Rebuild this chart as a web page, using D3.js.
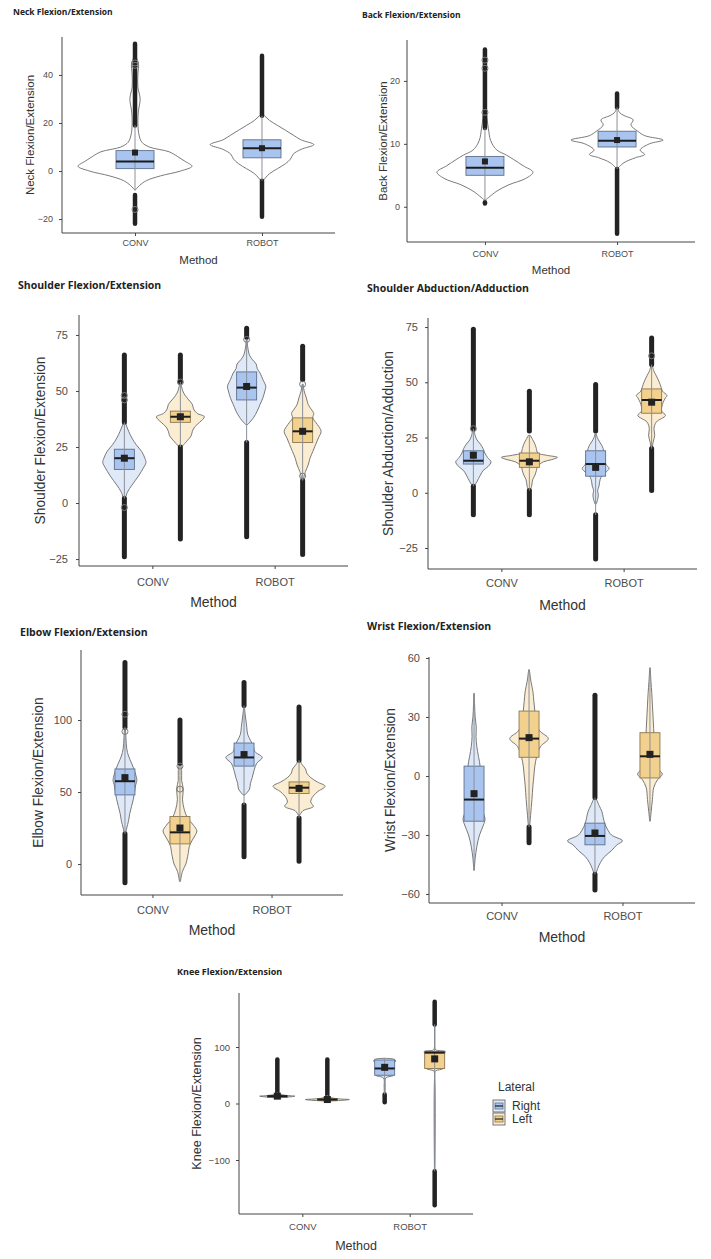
<!DOCTYPE html>
<html>
<head>
<meta charset="utf-8">
<script src="https://cdn.jsdelivr.net/npm/d3@7"></script>
<style>
  body { margin: 0; background: #fff; }
  text { font-family: "Liberation Sans", Arial, sans-serif; }
  .title { font-family: "Open Sans", "Noto Sans", sans-serif; font-weight: 700; fill: #222; }
</style>
</head>
<body>
<svg id="chart" width="711" height="1259"></svg>
<script>
// ---- data ----
const methods = ["CONV", "ROBOT"];
const laterals = ["Right", "Left"];

const titles = ["Neck Flexion/Extension", "Back Flexion/Extension", "Shoulder Flexion/Extension",
  "Shoulder Abduction/Adduction", "Elbow Flexion/Extension", "Wrist Flexion/Extension", "Knee Flexion/Extension"];
const yTitles = titles;
const yDomains = [[-25.8, 55.8], [-5.6, 26.5], [-28.1, 83.9], [-34.5, 79.1], [-21.5, 148.6], [-64.6, 60.5], [-195.6, 195.6]];
const yTicks = [[-20, 0, 20, 40], [0, 10, 20], [-25, 0, 25, 50, 75], [-25, 0, 25, 50, 75], [0, 50, 100], [-60, -30, 0, 30, 60], [-100, 0, 100]];

// box: [q1, median, q3], whisk: [lo, hi], outLo/outHi: span of the stacked outlier points,
// hollow: single open markers, peak: relative density peak, violin: [value, density]
const neckGroups = [
  { m: "CONV", lat: null, box: [1, 4, 8.5], mean: 7.7, whisk: [-8, 19], outLo: [-22, -10], outHi: [19, 53], hollow: [45, 44, -16], peak: 1,
    violin: [[-8, 0], [-6, 0.08], [-4, 0.2], [-2, 0.45], [0, 0.8], [2, 1], [4, 0.88], [6, 0.75], [8, 0.6], [10, 0.25], [12, 0.12], [15, 0.07], [20, 0.05], [25, 0.06], [30, 0.09], [35, 0.05], [40, 0.05], [45, 0.06], [48, 0]] },
  { m: "ROBOT", lat: null, box: [5.5, 9.5, 13], mean: 9.5, whisk: [-4, 23], outLo: [-19, -4], outHi: [23, 48], hollow: [], peak: 0.91,
    violin: [[-5, 0], [-3, 0.06], [-1, 0.15], [1, 0.3], [3, 0.45], [5, 0.55], [7, 0.6], [9, 0.75], [11, 1], [13, 0.75], [15, 0.6], [17, 0.45], [19, 0.3], [21, 0.15], [23, 0.05], [24, 0]] }
];
const backGroups = [
  { m: "CONV", lat: null, box: [5, 6.2, 8], mean: 7.2, whisk: [1, 12.5], outLo: [0.5, 0.7], outHi: [12.5, 25], hollow: [23.3, 22, 15], peak: 1,
    violin: [[1, 0], [1.5, 0.08], [2.5, 0.25], [3.5, 0.5], [4.5, 0.85], [5.5, 1], [6.5, 0.8], [7.5, 0.6], [8.2, 0.45], [9, 0.25], [10, 0.15], [11, 0.1], [12, 0.08], [13, 0.06], [15, 0.03], [16, 0]] },
  { m: "ROBOT", lat: null, box: [9.5, 10.5, 12], mean: 10.6, whisk: [6, 15.8], outLo: [-4.3, 6], outHi: [15.8, 18], hollow: [], peak: 0.96,
    violin: [[6, 0], [7, 0.15], [7.8, 0.4], [8.3, 0.6], [9, 0.5], [10, 0.7], [10.6, 1], [11.3, 0.6], [12, 0.45], [13, 0.3], [13.8, 0.35], [14.5, 0.15], [15, 0.05], [16, 0]] }
];
const shFlexGroups = [
  { m: "CONV", lat: "Right", box: [15, 20, 24], mean: 20, whisk: [2, 36], outLo: [-24, 2], outHi: [36, 66], hollow: [48, 46, -2], peak: 0.9,
    violin: [[2, 0.04], [5, 0.15], [8, 0.35], [12, 0.65], [16, 0.9], [18, 1], [20, 0.95], [23, 0.8], [26, 0.55], [29, 0.35], [32, 0.2], [35, 0.08], [38, 0.02]] },
  { m: "CONV", lat: "Left", box: [36, 38.5, 41], mean: 38.5, whisk: [25, 54], outLo: [-16, 25], outHi: [54, 66], hollow: [54], peak: 1,
    violin: [[25, 0.05], [28, 0.3], [30, 0.45], [32, 0.5], [34, 0.6], [36, 0.8], [38.5, 1], [40, 0.7], [42, 0.55], [44, 0.5], [46, 0.35], [48, 0.2], [50, 0.1], [53, 0.03]] },
  { m: "ROBOT", lat: "Right", box: [46, 51.5, 58.5], mean: 52, whisk: [27, 73], outLo: [-15, 27], outHi: [74, 78], hollow: [73], peak: 0.8,
    violin: [[35, 0.05], [38, 0.35], [41, 0.55], [44, 0.7], [47, 0.85], [50, 0.95], [52, 1], [55, 0.85], [58, 0.7], [60, 0.55], [62, 0.5], [64, 0.3], [66, 0.15], [70, 0.05], [73, 0.02]] },
  { m: "ROBOT", lat: "Left", box: [27, 32, 38], mean: 32, whisk: [10, 53], outLo: [-23, 10], outHi: [55, 70], hollow: [53, 12], peak: 0.77,
    violin: [[11, 0.05], [14, 0.15], [17, 0.3], [20, 0.4], [23, 0.55], [26, 0.7], [29, 0.85], [32, 1], [35, 0.8], [38, 0.55], [40, 0.6], [42, 0.45], [44, 0.3], [47, 0.2], [50, 0.08], [53, 0.03]] }
];
const shAbdGroups = [
  { m: "CONV", lat: "Right", box: [13, 14.5, 19], mean: 17, whisk: [3, 29], outLo: [-10, 3], outHi: [29, 74], hollow: [29], peak: 0.63,
    violin: [[3, 0.05], [5, 0.2], [8, 0.4], [10, 0.55], [12, 0.85], [14, 1], [16, 0.8], [18, 0.65], [20, 0.55], [22, 0.4], [24, 0.2], [26, 0.1], [29, 0.03]] },
  { m: "CONV", lat: "Left", box: [11.5, 14.5, 18], mean: 14, whisk: [1, 26], outLo: [-10, 1], outHi: [28, 46], hollow: [], peak: 1,
    violin: [[1, 0.03], [3, 0.08], [6, 0.12], [8, 0.2], [10, 0.25], [12, 0.3], [14, 0.5], [15, 0.8], [16, 1], [17, 0.6], [18, 0.3], [20, 0.25], [22, 0.2], [24, 0.12], [26, 0.03]] },
  { m: "ROBOT", lat: "Right", box: [7.5, 13, 19], mean: 11.5, whisk: [-10, 27], outLo: [-30, -10], outHi: [28, 49], hollow: [], peak: 0.48,
    violin: [[-5, 0.05], [-3, 0.15], [-1, 0.2], [1, 0.15], [3, 0.25], [5, 0.3], [7, 0.4], [9, 0.7], [11, 1], [13, 0.75], [15, 0.7], [17, 0.65], [19, 0.6], [21, 0.5], [23, 0.3], [25, 0.12], [27, 0.03]] },
  { m: "ROBOT", lat: "Left", box: [36, 42, 47], mean: 41, whisk: [20, 58], outLo: [1, 20], outHi: [58, 70], hollow: [62], peak: 0.55,
    violin: [[20, 0.03], [23, 0.1], [26, 0.2], [29, 0.15], [32, 0.3], [35, 0.9], [37, 0.65], [40, 0.7], [43, 0.9], [44, 1], [46, 0.7], [48, 0.6], [50, 0.5], [53, 0.3], [55, 0.15], [58, 0.03]] }
];
const elbowGroups = [
  { m: "CONV", lat: "Right", box: [48, 57.5, 66], mean: 60, whisk: [21, 95], outLo: [-13, 21], outHi: [95, 140], hollow: [104, 92], peak: 0.46,
    violin: [[21, 0.05], [25, 0.15], [30, 0.3], [35, 0.4], [40, 0.55], [45, 0.7], [50, 0.8], [55, 0.9], [58, 1], [62, 0.9], [66, 0.75], [70, 0.55], [75, 0.3], [80, 0.15], [88, 0.08], [95, 0.03]] },
  { m: "CONV", lat: "Left", box: [14, 22, 33], mean: 25, whisk: [-12, 68], outLo: null, outHi: [70, 100], hollow: [68, 52], peak: 0.65,
    violin: [[-12, 0.03], [-5, 0.15], [0, 0.35], [5, 0.45], [8, 0.5], [12, 0.55], [16, 0.7], [20, 0.9], [23, 1], [27, 0.8], [32, 0.45], [38, 0.25], [45, 0.15], [52, 0.2], [58, 0.1], [65, 0.1], [70, 0.02]] },
  { m: "ROBOT", lat: "Right", box: [68, 74, 84], mean: 76, whisk: [41, 110], outLo: [5, 41], outHi: [110, 126], hollow: [], peak: 0.7,
    violin: [[48, 0.05], [52, 0.3], [56, 0.35], [60, 0.45], [65, 0.55], [70, 0.7], [74, 1], [78, 0.6], [82, 0.5], [86, 0.35], [90, 0.2], [95, 0.15], [100, 0.1], [105, 0.05], [110, 0.02]] },
  { m: "ROBOT", lat: "Left", box: [49, 53, 57], mean: 52.5, whisk: [32, 72], outLo: [2, 32], outHi: [72, 109], hollow: [], peak: 1,
    violin: [[34, 0.03], [37, 0.15], [40, 0.55], [43, 0.45], [46, 0.5], [50, 0.7], [54, 1], [57, 0.7], [60, 0.45], [63, 0.3], [66, 0.25], [69, 0.12], [72, 0.03]] }
];
const wristGroups = [
  { m: "CONV", lat: "Right", box: [-23, -12, 5], mean: -9, whisk: [-48, 42], outLo: null, outHi: null, hollow: [], peak: 0.4,
    violin: [[-48, 0.02], [-42, 0.1], [-36, 0.25], [-30, 0.5], [-25, 0.85], [-22, 1], [-18, 0.8], [-12, 0.65], [-6, 0.55], [0, 0.5], [5, 0.55], [10, 0.4], [15, 0.25], [20, 0.18], [25, 0.2], [30, 0.1], [36, 0.05], [42, 0.02]] },
  { m: "CONV", lat: "Left", box: [9.5, 19, 33], mean: 19.5, whisk: [-26, 54], outLo: [-34, -26], outHi: null, hollow: [], peak: 0.7,
    violin: [[-26, 0.03], [-20, 0.08], [-12, 0.15], [-5, 0.2], [0, 0.25], [5, 0.3], [10, 0.4], [15, 0.6], [19, 1], [23, 0.55], [28, 0.35], [33, 0.3], [38, 0.25], [43, 0.2], [48, 0.1], [54, 0.02]] },
  { m: "ROBOT", lat: "Right", box: [-35, -30.5, -24], mean: -29, whisk: [-50, -11], outLo: [-58, -50], outHi: [-11, 41], hollow: [], peak: 1,
    violin: [[-50, 0.03], [-47, 0.1], [-44, 0.2], [-41, 0.35], [-38, 0.6], [-35, 0.8], [-33, 1], [-30, 0.6], [-27, 0.45], [-24, 0.35], [-21, 0.3], [-18, 0.25], [-15, 0.15], [-11, 0.03]] },
  { m: "ROBOT", lat: "Left", box: [-1, 10, 22], mean: 11, whisk: [-23, 55], outLo: null, outHi: null, hollow: [], peak: 0.45,
    violin: [[-23, 0.02], [-18, 0.1], [-12, 0.2], [-6, 0.3], [-2, 0.6], [1, 1], [4, 0.6], [8, 0.45], [12, 0.4], [18, 0.35], [24, 0.3], [30, 0.25], [36, 0.2], [42, 0.15], [48, 0.08], [55, 0.02]] }
];
const kneeGroups = [
  { m: "CONV", lat: "Right", box: [11, 13, 14], mean: 13, whisk: [9, 20], outLo: null, outHi: [20, 78], hollow: [], peak: 0.8,
    violin: [[9, 0.02], [11, 0.4], [12, 0.8], [13, 1], [14, 0.6], [16, 0.2], [18, 0.08], [20, 0.02]] },
  { m: "CONV", lat: "Left", box: [6, 7, 8.5], mean: 7, whisk: [4, 15], outLo: null, outHi: [15, 78], hollow: [], peak: 1,
    violin: [[4, 0.02], [5, 0.4], [6, 0.8], [7, 1], [8, 0.6], [10, 0.2], [12, 0.08], [15, 0.02]] },
  { m: "ROBOT", lat: "Right", box: [50, 62, 77], mean: 64, whisk: [16, 80], outLo: [2, 16], outHi: null, hollow: [], peak: 0.5,
    violin: [[16, 0.03], [30, 0.05], [45, 0.1], [50, 0.8], [55, 0.6], [62, 0.7], [70, 0.75], [75, 1], [78, 0.9], [80, 0.03]] },
  { m: "ROBOT", lat: "Left", box: [62, 90, 92], mean: 79, whisk: [-120, 140], outLo: [-180, -120], outHi: [140, 180], hollow: [], peak: 0.48,
    violin: [[-180, 0.02], [55, 0.03], [58, 0.1], [62, 0.8], [70, 0.7], [80, 0.75], [88, 0.9], [92, 1], [95, 0.1], [100, 0.02], [180, 0.02]] }
];
const panelGroups = [neckGroups, backGroups, shFlexGroups, shAbdGroups, elbowGroups, wristGroups, kneeGroups];

// ---- layout (pixels) ----
const layout = [
  { ax: 62,  ar: 335, top: 37,  bot: 233,  pad: 0.575, dodge: 0,    vmax: 57,  boxW: 38, sq: 6, out: 4.5,
    tx: 13,  ty: 15,  tfs: 8.5, ylx: 30,  ylfs: 11.5, tkfs: 9,   xtPad: 3.6, ytPad: 6, xlfs: 11.5, xly: 264 },
  { ax: 407, ar: 695, top: 40,  bot: 242,  pad: 0.59,  dodge: 0,    vmax: 48,  boxW: 38, sq: 6, out: 4.5,
    tx: 362, ty: 18,  tfs: 8.5, ylx: 383, ylfs: 11.5, tkfs: 9,   xtPad: 5.6, ytPad: 4, xlfs: 11.5, xly: 274 },
  { ax: 79,  ar: 348, top: 315, bot: 566,  pad: 0.60,  dodge: 28,   vmax: 24,  boxW: 20, sq: 7, out: 5,
    tx: 18,  ty: 289, tfs: 10.5, ylx: 40, ylfs: 13.8, tkfs: 11,  xtPad: 9.2, ytPad: 8, xlfs: 14, xly: 607 },
  { ax: 428, ar: 697, top: 318, bot: 569,  pad: 0.60,  dodge: 28,   vmax: 28,  boxW: 20, sq: 7, out: 5,
    tx: 367, ty: 292, tfs: 10.5, ylx: 388, ylfs: 13.8, tkfs: 11, xtPad: 7.2, ytPad: 7, xlfs: 14, xly: 610 },
  { ax: 81,  ar: 343, top: 650, bot: 895,  pad: 0.60,  dodge: 27.5, vmax: 26,  boxW: 20, sq: 7, out: 5,
    tx: 20,  ty: 636, tfs: 10.5, ylx: 38, ylfs: 13.8, tkfs: 11,  xtPad: 8.2, ytPad: 6, xlfs: 14, xly: 935 },
  { ax: 429, ar: 695, top: 657, bot: 903,  pad: 0.60,  dodge: 27.5, vmax: 27.5, boxW: 20, sq: 7, out: 5,
    tx: 367, ty: 630, tfs: 10.5, ylx: 390, ylfs: 13.8, tkfs: 11, xtPad: 6.2, ytPad: 6, xlfs: 14, xly: 942 },
  { ax: 239, ar: 473, top: 993, bot: 1214, pad: 0.59,  dodge: 25,   vmax: 22,  boxW: 20, sq: 7, out: 4.5,
    tx: 177, ty: 975, tfs: 9,   ylx: 197, ylfs: 12.6, tkfs: 9.5, xtPad: 6.3, ytPad: 6, xlfs: 12.5, xly: 1250 }
];

const violinFill = { none: "#ffffff", Right: "#dfe9f8", Left: "#fbedd2" };
const boxFill = { Right: "#a9c5ef", Left: "#f2d08e" };
const boxStroke = { Right: "#5d6f8c", Left: "#8a7750" };

const svg = d3.select("#chart");

function drawPanel(i) {
  const L = layout[i], groups = panelGroups[i];
  const g = svg.append("g");

  const y = d3.scaleLinear().domain(yDomains[i]).range([L.bot, L.top]);
  const x = d3.scalePoint().domain(methods).range([L.ax, L.ar]).padding(L.pad);
  const dx = d3.scalePoint().domain(laterals).range([-L.dodge, L.dodge]);
  const vw = d3.scaleLinear().domain([0, 1]).range([0, L.vmax]);
  const cx = d => x(d.m) + (d.lat ? dx(d.lat) : 0);

  // title
  g.append("text").attr("class", "title").attr("x", L.tx).attr("y", L.ty)
    .attr("font-size", L.tfs).text(titles[i]);

  // axes
  const yAxis = g.append("g").attr("transform", `translate(${L.ax},0)`)
    .call(d3.axisLeft(y).tickValues(yTicks[i]).tickSize(3).tickPadding(L.ytPad).tickSizeOuter(0));
  const xAxis = g.append("g").attr("transform", `translate(0,${L.bot})`)
    .call(d3.axisBottom(x).tickSize(3).tickPadding(L.xtPad).tickSizeOuter(0));
  for (const a of [yAxis, xAxis]) {
    a.select(".domain").remove();
    a.selectAll(".tick line").attr("stroke", "#444");
    a.selectAll("text").attr("fill", "#4d4d4d").attr("font-size", L.tkfs)
      .attr("font-family", "'Liberation Sans', Arial, sans-serif");
  }
  g.append("path").attr("fill", "none").attr("stroke", "#444").attr("stroke-width", 1)
    .attr("d", `M${L.ax},${L.top}V${L.bot}H${L.ar}`);

  // axis titles
  g.append("text").attr("transform", `translate(${L.ylx},${(L.top + L.bot) / 2}) rotate(-90)`)
    .attr("dy", "0.35em").attr("text-anchor", "middle").attr("font-size", L.ylfs).attr("fill", "#333")
    .text(yTitles[i]);
  g.append("text").attr("x", (L.ax + L.ar) / 2).attr("y", L.xly).attr("text-anchor", "middle")
    .attr("font-size", L.xlfs).attr("fill", "#333").text("Method");

  const area = d3.area().curve(d3.curveCatmullRom)
    .y(p => y(p[0]));

  const grp = g.selectAll(".grp").data(groups).join("g").attr("class", "grp");

  // violins
  grp.append("path")
    .attr("d", d => area.x0(p => cx(d) - vw(p[1] * d.peak)).x1(p => cx(d) + vw(p[1] * d.peak))(d.violin))
    .attr("fill", d => violinFill[d.lat || "none"])
    .attr("stroke", "#6b6b6b").attr("stroke-width", 0.9);

  // outliers (dense stacks of points)
  grp.each(function (d) {
    const s = d3.select(this);
    for (const r of [d.outLo, d.outHi]) {
      if (!r) continue;
      s.append("line").attr("x1", cx(d)).attr("x2", cx(d))
        .attr("y1", y(r[0])).attr("y2", y(r[1]))
        .attr("stroke", "#232323").attr("stroke-width", L.out).attr("stroke-linecap", "round");
    }
    for (const v of d.hollow) {
      s.append("circle").attr("cx", cx(d)).attr("cy", y(v)).attr("r", 3)
        .attr("fill", "none").attr("stroke", "#777").attr("stroke-width", 1);
    }
  });

  // boxes
  grp.append("rect")
    .attr("x", d => cx(d) - L.boxW / 2).attr("width", L.boxW)
    .attr("y", d => y(d.box[2])).attr("height", d => y(d.box[0]) - y(d.box[2]))
    .attr("fill", d => boxFill[d.lat || "Right"])
    .attr("stroke", d => boxStroke[d.lat || "Right"]).attr("stroke-width", 0.9);

  // whiskers
  grp.append("line")
    .attr("x1", cx).attr("x2", cx)
    .attr("y1", d => y(d.whisk[0])).attr("y2", d => y(d.whisk[1]))
    .attr("stroke", "#8a8f98").attr("stroke-width", 1);

  // medians
  grp.append("line")
    .attr("x1", d => cx(d) - L.boxW / 2).attr("x2", d => cx(d) + L.boxW / 2)
    .attr("y1", d => y(d.box[1])).attr("y2", d => y(d.box[1]))
    .attr("stroke", "#1c1c1c").attr("stroke-width", 2);

  // means
  grp.append("rect")
    .attr("x", d => cx(d) - L.sq / 2).attr("y", d => y(d.mean) - L.sq / 2)
    .attr("width", L.sq).attr("height", L.sq).attr("fill", "#222");

  return g;
}

d3.range(7).forEach(drawPanel);

// legend (knee panel)
const leg = svg.append("g");
leg.append("text").attr("x", 498).attr("y", 1091).attr("font-size", 12).attr("fill", "#333").text("Lateral");
const keys = leg.selectAll(".key").data(laterals).join("g").attr("class", "key")
  .attr("transform", (d, i) => `translate(493,${1100 + i * 13})`);
keys.append("rect").attr("width", 12).attr("height", 12)
  .attr("fill", d => violinFill[d]).attr("stroke", "#6b6b6b").attr("stroke-width", 0.9);
keys.append("rect").attr("x", 2).attr("y", 3).attr("width", 8).attr("height", 6)
  .attr("fill", d => boxFill[d]).attr("stroke", d => boxStroke[d]).attr("stroke-width", 0.8);
keys.append("line").attr("x1", 2).attr("x2", 10).attr("y1", 6).attr("y2", 6)
  .attr("stroke", "#1c1c1c").attr("stroke-width", 1.2);
keys.append("text").attr("x", 19).attr("y", 10).attr("font-size", 12).attr("fill", "#333").text(d => d);
</script>
</body>
</html>
